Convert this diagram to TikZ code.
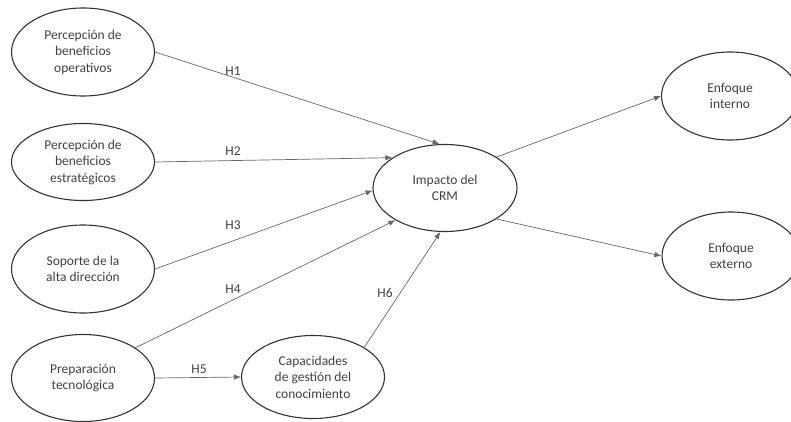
\documentclass[tikz,border=0pt]{standalone}
\usepackage{fontspec}
\setmainfont{Carlito}
\usetikzlibrary{shapes.geometric,arrows.meta}
\begin{document}
\begin{tikzpicture}[x=1pt,y=-1pt,
  construct/.style={draw=black!80,line width=1.1pt,ellipse,inner sep=0pt,
    minimum width=143pt,minimum height=88pt,align=center,
    font=\fontsize{13.5}{16.5}\selectfont,text=black!75},
  path/.style={draw=black!60,line width=0.7pt,-{Latex[length=7pt,width=5.5pt]}},
  hyp/.style={font=\fontsize{13.5}{15}\selectfont,text=black!75}]
\useasboundingbox (0,0) rectangle (791,422);

% constructs
\node[construct] (pbo) at (83,52) {Percepción de\\beneficios\\operativos};
\node[construct,minimum height=77pt] (pbe) at (83,162) {Percepción de\\beneficios\\estratégicos};
\node[construct] (sad) at (83,269) {Soporte de la\\alta dirección};
\node[construct,minimum height=87pt] (ptec) at (83,378) {Preparación\\tecnológica};
\node[construct,minimum height=83pt] (cgc) at (313,377) {Capacidades\\de gestión del\\conocimiento};
\node[construct,minimum width=144pt,minimum height=87pt] (imp) at (445,188) {Impacto del\\CRM};
\node[construct,minimum width=137pt] (ein) at (730,96) {Enfoque\\interno};
\node[construct,minimum width=138pt] (eex) at (731,256) {Enfoque\\externo};

% hypothesised paths
\draw[path] (pbo.east) -- (imp.97);
\draw[path] (pbe.east) -- (imp.150);
\draw[path] (sad.east) -- (imp.182);
\draw[path] (ptec.30) -- (imp.213);
\draw[path] (ptec.east) -- (cgc.west);
\draw[path] (cgc.30) -- (imp.264);
\draw[path] (imp.31) -- (ein.west);
\draw[path] (imp.-31) -- (eex.west);

% path labels
\node[hyp] (h1) at (233,71) {H1};
\node[hyp] (h2) at (233,151) {H2};
\node[hyp] (h3) at (233,225) {H3};
\node[hyp] (h4) at (233,289) {H4};
\node[hyp] (h5) at (199,369) {H5};
\node[hyp] (h6) at (385,293) {H6};
\end{tikzpicture}
\end{document}
